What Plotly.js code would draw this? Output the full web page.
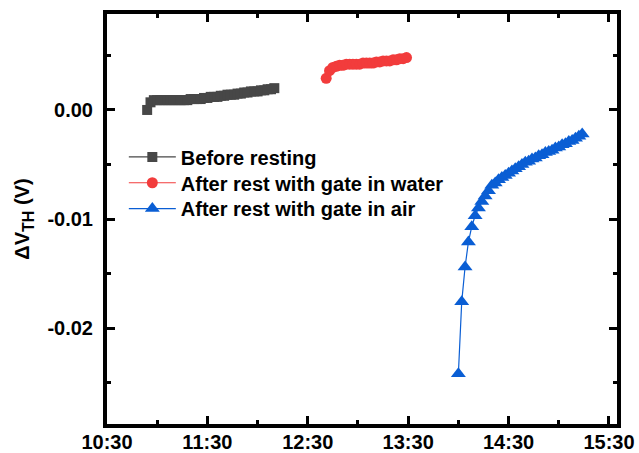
<!DOCTYPE html>
<html>
<head>
<meta charset="utf-8">
<script src="https://cdn.plot.ly/plotly-3.0.1.min.js"></script>
<style>html,body{margin:0;padding:0;background:#fff;}#chart{width:639px;height:453px;}</style>
</head>
<body>
<div id="chart"></div>
<script>
// ---- data (time of day, ΔV_TH in volts) ----
const seriesNames = ["Before resting", "After rest with gate in water", "After rest with gate in air"];

const beforeTimes = ["10:54","10:56","10:58","11:00","11:02","11:04","11:06","11:08","11:10","11:12",
  "11:14","11:16","11:18","11:20","11:22","11:24","11:26","11:28","11:30","11:32",
  "11:34","11:36","11:38","11:40","11:42","11:44","11:46","11:48","11:50","11:52",
  "11:54","11:56","11:58","12:00","12:02","12:04","12:06","12:08","12:10"];
const beforeValues = [0.0000,0.0007,0.0009,0.0009,0.0009,0.0009,0.0009,0.0009,0.0009,0.0009,
  0.0009,0.0009,0.0009,0.0010,0.0010,0.0010,0.0010,0.0011,0.0011,0.0012,
  0.0012,0.0012,0.0013,0.0013,0.0014,0.0014,0.0014,0.0015,0.0015,0.0016,
  0.0016,0.0017,0.0017,0.0017,0.0018,0.0018,0.0019,0.0019,0.0020];

const waterTimes = ["12:41","12:43","12:45","12:47","12:49","12:51","12:53","12:55","12:57","12:59",
  "13:01","13:03","13:05","13:07","13:09","13:11","13:13","13:15","13:17","13:19",
  "13:21","13:23","13:25","13:27","13:29"];
const waterValues = [0.0029,0.0036,0.0039,0.0040,0.0041,0.0041,0.0042,0.0042,0.0042,0.0042,
  0.0042,0.0043,0.0043,0.0043,0.0043,0.0044,0.0044,0.0045,0.0045,0.0045,
  0.0046,0.0046,0.0047,0.0047,0.0048];

const airTimes = ["14:00","14:02","14:04","14:06","14:08","14:10","14:12","14:14","14:16","14:18",
  "14:20","14:22","14:24","14:26","14:28","14:30","14:32","14:34","14:36","14:38",
  "14:40","14:42","14:44","14:46","14:48","14:50","14:52","14:54","14:56","14:58",
  "15:00","15:02","15:04","15:06","15:08","15:10","15:12","15:14"];
const airValues = [-0.0242,-0.0176,-0.0144,-0.0121,-0.0107,-0.0097,-0.0090,-0.0084,-0.0079,-0.0074,
  -0.0069,-0.0067,-0.0064,-0.0062,-0.0060,-0.0058,-0.0056,-0.0054,-0.0052,-0.0050,
  -0.0048,-0.0047,-0.0045,-0.0044,-0.0042,-0.0041,-0.0039,-0.0038,-0.0037,-0.0035,
  -0.0034,-0.0032,-0.0031,-0.0029,-0.0028,-0.0026,-0.0024,-0.0022];

const xTickLabels = ["10:30","11:30","12:30","13:30","14:30","15:30"];
const yTickValues = [-0.02, -0.01, 0.00];
const yTickLabels = ["-0.02", "-0.01", "0.00"];

// ---- build ----
const day = "2000-01-01 ";
const toDate = t => day + t;
const FONT = 'Arial, "Liberation Sans", sans-serif';
const bold = () => ({family: FONT, size: 20, color: "#000000", weight: "bold"});

function mk(name, times, vals, color, symbol, size, legendId) {
  return {
    type: "scatter", mode: "lines+markers", name: name, legend: legendId,
    x: times.map(toDate), y: vals,
    line: {color: color, width: 1.2},
    marker: {color: color, symbol: symbol, size: size, line: {width: 0}}
  };
}

const traces = [
  mk(seriesNames[0], beforeTimes, beforeValues, "#474747", "square", 10, "legend"),
  mk(seriesNames[1], waterTimes, waterValues, "#F23C3C", "circle", 11, "legend2"),
  mk(seriesNames[2], airTimes, airValues, "#0A5ED4", "triangle-up", 13, "legend3")
];

function leg(y) {
  return {x: 0.033, y: y, xanchor: "left", yanchor: "top",
    bgcolor: "rgba(0,0,0,0)", borderwidth: 0, font: bold(), itemwidth: 47};
}

const layout = {
  width: 639, height: 453,
  margin: {l: 107, r: 22, t: 14, b: 29},
  font: bold(),
  showlegend: true,
  legend: leg(0.699),
  legend2: leg(0.636),
  legend3: leg(0.573),
  xaxis: {
    type: "date",
    range: [toDate("10:30"), toDate("15:34:48")],
    tickmode: "array",
    tickvals: xTickLabels.map(toDate),
    ticktext: xTickLabels,
    ticks: "inside", ticklen: 8, tickwidth: 3, tickcolor: "black",
    minor: {ticks: "inside", ticklen: 4, tickwidth: 3, tickcolor: "black", dtick: 1800000, tick0: toDate("11:00"), showgrid: false},
    showline: true, linewidth: 4, linecolor: "black", mirror: "allticks",
    showgrid: false, zeroline: false, tickfont: bold(),
    ticklabelstandoff: -3
  },
  yaxis: {
    range: [-0.0288, 0.0088],
    tickmode: "array",
    tickvals: yTickValues, ticktext: yTickLabels,
    ticks: "inside", ticklen: 8, tickwidth: 3, tickcolor: "black",
    minor: {ticks: "inside", ticklen: 4, tickwidth: 3, tickcolor: "black", dtick: 0.005, tick0: 0, showgrid: false},
    showline: true, linewidth: 4, linecolor: "black", mirror: "allticks",
    showgrid: false, zeroline: false, tickfont: bold(),
    ticklabelstandoff: 6,
    title: {text: "ΔV<sub><span style=\"font-size:16px\">TH</span></sub> (V)", font: bold(), standoff: 13}
  }
};

Plotly.newPlot("chart", traces, layout, {displayModeBar: false});
</script>
</body>
</html>
